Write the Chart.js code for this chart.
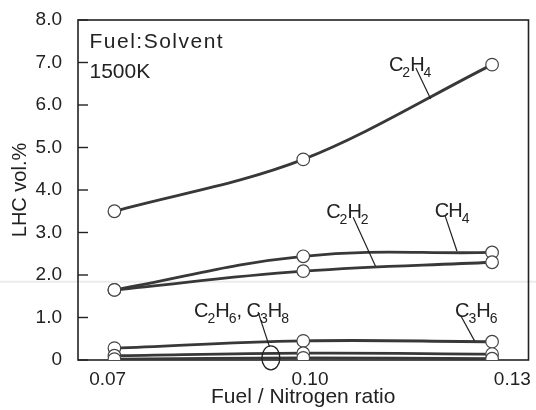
<!DOCTYPE html>
<html>
<head>
<meta charset="utf-8">
<script src="https://cdn.jsdelivr.net/npm/chart.js@4.4.1/dist/chart.umd.min.js"></script>
<style>
body { margin: 0; background: #fff; }
</style>
</head>
<body>
<canvas id="chart" width="536" height="410"></canvas>
<script>
// values
const ratios = [0.071, 0.099, 0.127]
const c2h4 = [3.50, 4.72, 6.95]
const ch4 = [1.65, 2.44, 2.53]
const c2h2 = [1.65, 2.09, 2.30]
const c3h6 = [0.28, 0.45, 0.43]
const c2h6 = [0.10, 0.16, 0.14]
const c3h8 = [0.02, 0.05, 0.03]
const yTicks = [0, 1, 2, 3, 4, 5, 6, 7, 8]
const xTicks = [0.07, 0.10, 0.13]

// species labels with leader lines (data coords)
const speciesLabels = [
  { parts: [["C"], ["2", 1], ["H"], ["4", 1]], x: 0.1117, y: 6.80, line: [0.1157, 6.87, 0.1179, 6.14] },
  { parts: [["C"], ["2", 1], ["H"], ["2", 1]], x: 0.1024, y: 3.34, line: [0.1064, 3.36, 0.1097, 2.21] },
  { parts: [["C"], ["H"], ["4", 1]], x: 0.1185, y: 3.36, line: [0.1200, 3.41, 0.1218, 2.56] },
  { parts: [["C"], ["2", 1], ["H"], ["6", 1], [", "], ["C"], ["3", 1], ["H"], ["8", 1]], x: 0.0828, y: 1.01, line: [0.0923, 1.13, 0.0940, 0.31] },
  { parts: [["C"], ["3", 1], ["H"], ["6", 1]], x: 0.1215, y: 1.01, line: [0.1223, 1.06, 0.1244, 0.45] }
]

const FONT = "'Liberation Sans', Arial, sans-serif"
const INK = "#222"

function pts(arr) {
  return ratios.map((x, i) => ({ x: x, y: arr[i] }))
}

function series(arr, mode) {
  return {
    data: pts(arr),
    borderColor: "#383838",
    borderWidth: 2.8,
    tension: 0.4,
    cubicInterpolationMode: mode || "default",
    pointRadius: 6.3,
    pointBackgroundColor: "#fff",
    pointBorderColor: "#444",
    pointBorderWidth: 1.2,
    fill: false
  }
}

function drawFormula(ctx, parts, x, y) {
  let cx = x
  parts.forEach(p => {
    let sub = p[1] === 1
    ctx.font = (sub ? "14px " : "20px ") + FONT
    ctx.fillText(p[0], cx, sub ? y + 6 : y)
    cx += ctx.measureText(p[0]).width + (sub ? 0 : -1)
  })
}

const decor = {
  id: "decor",
  beforeDatasetsDraw(chart) {
    let ctx = chart.ctx
    let a = chart.chartArea
    let ys = chart.scales.y

    // faint scan streak
    ctx.save()
    ctx.strokeStyle = "#ececec"
    ctx.lineWidth = 2
    ctx.beginPath()
    ctx.moveTo(0, ys.getPixelForValue(1.84))
    ctx.lineTo(chart.width, ys.getPixelForValue(1.84))
    ctx.stroke()

    // frame
    ctx.strokeStyle = INK
    ctx.lineWidth = 1.6
    ctx.strokeRect(a.left, a.top, a.right - a.left, a.bottom - a.top)

    // inward ticks
    ctx.lineWidth = 1.4
    yTicks.forEach(v => {
      let py = ys.getPixelForValue(v)
      ctx.beginPath()
      ctx.moveTo(a.left, py)
      ctx.lineTo(a.left + 10, py)
      ctx.stroke()
    })
    ctx.restore()
  },
  afterDraw(chart) {
    let ctx = chart.ctx
    let xs = chart.scales.x
    let ys = chart.scales.y
    ctx.save()
    ctx.fillStyle = INK
    ctx.strokeStyle = INK
    ctx.textBaseline = "alphabetic"

    // condition text
    ctx.font = "21px " + FONT
    ctx.letterSpacing = "1.5px"
    ctx.fillText("Fuel:Solvent", xs.getPixelForValue(0.0673), ys.getPixelForValue(7.34))
    ctx.letterSpacing = "0px"
    ctx.fillText("1500K", xs.getPixelForValue(0.0673), ys.getPixelForValue(6.63))

    // species labels
    ctx.lineWidth = 1.2
    speciesLabels.forEach(l => {
      drawFormula(ctx, l.parts, xs.getPixelForValue(l.x), ys.getPixelForValue(l.y))
      ctx.beginPath()
      ctx.moveTo(xs.getPixelForValue(l.line[0]), ys.getPixelForValue(l.line[1]))
      ctx.lineTo(xs.getPixelForValue(l.line[2]), ys.getPixelForValue(l.line[3]))
      ctx.stroke()
    })

    // ellipse grouping C2H6 / C3H8
    ctx.lineWidth = 1.3
    ctx.beginPath()
    ctx.ellipse(xs.getPixelForValue(0.0942), ys.getPixelForValue(0.05), 9, 12, 0, 0, Math.PI * 2)
    ctx.stroke()
    ctx.restore()
  }
}

new Chart(document.getElementById("chart"), {
  type: "line",
  data: {
    datasets: [series(c3h8), series(c2h6), series(c3h6), series(c2h2), series(ch4), series(c2h4, "monotone")]
  },
  options: {
    responsive: false,
    animation: false,
    devicePixelRatio: 1,
    layout: { padding: { left: 0, right: 4, top: 20, bottom: 0 } },
    plugins: { legend: { display: false }, tooltip: { enabled: false } },
    scales: {
      x: {
        type: "linear",
        min: 0.0656,
        max: 0.1324,
        afterBuildTicks: s => { s.ticks = xTicks.map(v => ({ value: v })) },
        afterFit: s => { s.height = 50; s.paddingLeft = 0; s.paddingRight = 0 },
        grid: { display: false, drawTicks: false },
        border: { display: false },
        ticks: {
          padding: 8,
          color: INK,
          font: { size: 19, family: FONT },
          callback: v => v.toFixed(2)
        },
        title: {
          display: true,
          text: "Fuel / Nitrogen ratio",
          color: INK,
          font: { size: 21, family: FONT },
          padding: { top: 0, bottom: 0 }
        }
      },
      y: {
        min: 0,
        max: 8,
        afterBuildTicks: s => { s.ticks = yTicks.map(v => ({ value: v })) },
        afterFit: s => { s.width = 78; s.paddingTop = 0; s.paddingBottom = 0 },
        grid: { display: false, drawTicks: false },
        border: { display: false },
        ticks: {
          padding: 16,
          color: INK,
          font: { size: 19, family: FONT },
          callback: v => v === 0 ? "0" : v.toFixed(1)
        },
        title: {
          display: true,
          text: "LHC vol.%",
          color: INK,
          font: { size: 20, family: FONT },
          padding: { top: 8, bottom: 0 }
        }
      }
    }
  },
  plugins: [decor]
})
</script>
</body>
</html>
